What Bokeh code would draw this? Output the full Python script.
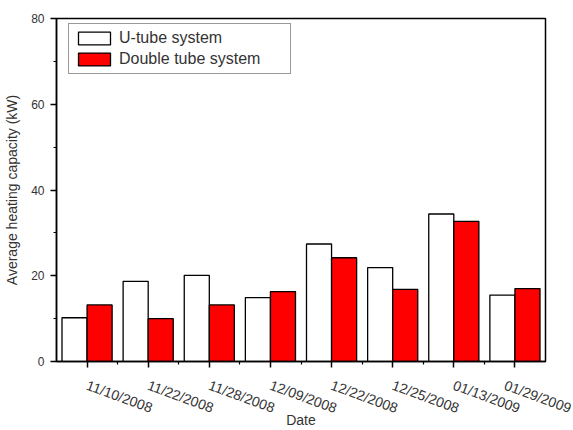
import numpy as np
from bokeh.plotting import figure
from bokeh.models import FixedTicker, Range1d, Legend, LegendItem
from bokeh.embed import file_html
from bokeh.resources import INLINE

dates = ["11/10/2008", "11/22/2008", "11/28/2008", "12/09/2008",
         "12/22/2008", "12/25/2008", "01/13/2009", "01/29/2009"]
u_tube = [10.2, 18.7, 20.1, 14.9, 27.4, 21.9, 34.4, 15.5]
double_tube = [13.2, 10.0, 13.2, 16.3, 24.2, 16.8, 32.7, 17.0]
y_ticks = [0, 20, 40, 60, 80]
y_minor = [10, 30, 50, 70]

FONT = "Liberation Sans"
idx = np.arange(len(dates))
bw = 0.41

p = figure(width=573, height=430, output_backend="svg", toolbar_location=None,
           x_range=Range1d(-0.5, len(dates) - 0.5), y_range=Range1d(0, 80),
           min_border_left=56, min_border_right=28, min_border_top=18, min_border_bottom=69)
p.grid.visible = False
p.background_fill_color = "white"
p.border_fill_color = "white"
p.outline_line_color = "black"
p.outline_line_width = 1.5

r1 = p.vbar(x=idx - bw / 2, top=u_tube, width=bw, fill_color="white",
            line_color="black", line_width=1.3)
r2 = p.vbar(x=idx + bw / 2, top=double_tube, width=bw, fill_color="#ff0000",
            line_color="black", line_width=1.3)

legend = Legend(items=[LegendItem(label="U-tube system", renderers=[r1]),
                       LegendItem(label="Double tube system", renderers=[r2])],
                location=(12, 287))
legend.border_line_color = "#333333"
legend.border_line_width = 1.5
legend.label_text_font = FONT
legend.label_text_font_size = "16px"
legend.label_text_color = "#333333"
legend.glyph_width = 40
legend.glyph_height = 16
legend.label_height = 16
legend.label_width = 166
legend.spacing = 3
legend.padding = 5
legend.margin = 0
legend.label_standoff = 5
legend.background_fill_alpha = 1
p.add_layout(legend)

xa = p.xaxis[0]
xa.ticker = FixedTicker(ticks=list(idx), minor_ticks=list(idx + 0.5)[:-1])
xa.major_label_overrides = {int(i): d for i, d in zip(idx, dates)}
xa.major_label_orientation = -0.35
xa.axis_label = "Date"

ya = p.yaxis[0]
ya.ticker = FixedTicker(ticks=y_ticks, minor_ticks=y_minor)
ya.axis_label = "Average heating capacity (kW)"

for ax in (xa, ya):
    ax.axis_line_width = 1.5
    ax.major_tick_line_width = 1.5
    ax.minor_tick_line_width = 1.2
    ax.major_tick_out = 6
    ax.major_tick_in = 0
    ax.minor_tick_out = 3
    ax.minor_tick_in = 0
    ax.major_label_text_font = FONT
    ax.major_label_text_color = "#333333"
    ax.axis_label_text_font = FONT
    ax.axis_label_text_font_size = "14px"
    ax.axis_label_text_font_style = "normal"
    ax.axis_label_text_color = "#333333"
xa.major_label_text_font_size = "14px"
ya.major_label_text_font_size = "12px"
xa.major_label_standoff = 17
xa.axis_label_standoff = -15
ya.major_label_standoff = 6
ya.axis_label_standoff = 8

open("out.html", "w").write(file_html(p, INLINE))
